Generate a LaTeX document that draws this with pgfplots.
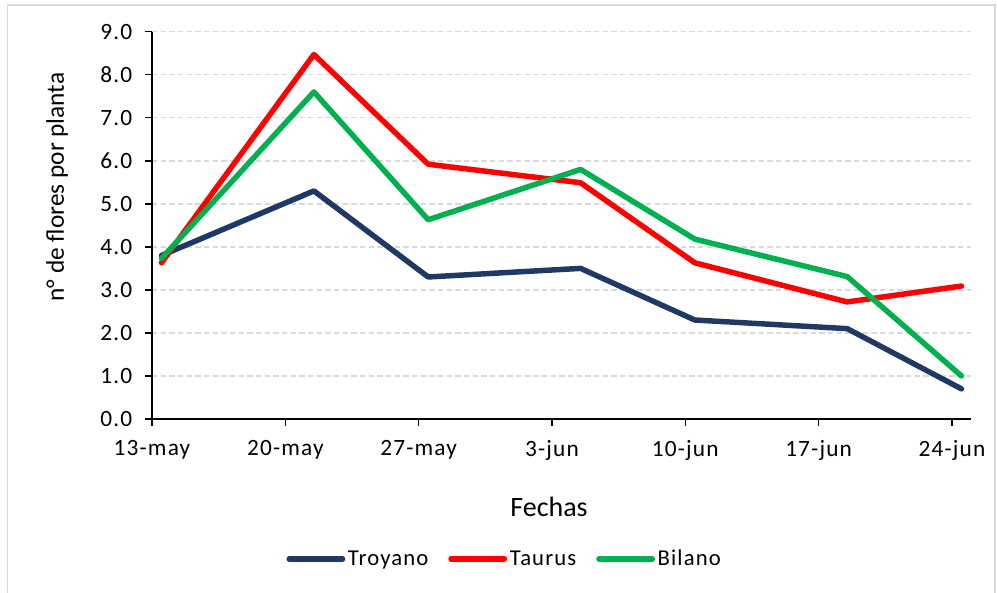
\documentclass[border=0pt]{standalone}
\usepackage{pgfplots}
\pgfplotsset{compat=1.18}
\usepackage{fontspec}
\setmainfont{Carlito}
\newfontfamily\tickfont[LetterSpace=5]{Carlito}
\newfontfamily\legfont[LetterSpace=5]{Carlito}
\definecolor{troy}{HTML}{203864}
\definecolor{taur}{HTML}{FF0000}
\definecolor{bila}{HTML}{00B050}
\definecolor{gridc}{HTML}{D9D9D9}
\begin{document}
\begin{tikzpicture}
\useasboundingbox (0pt,0pt) rectangle (747.75pt,-444.75pt);
\fill[white] (0pt,0pt) rectangle (747.75pt,-444.75pt);
\draw[gridc, line width=1.2pt] (5.6pt,-444.75pt) -- (5.6pt,-3.75pt) -- (746.25pt,-3.75pt) -- (746.25pt,-444.75pt);
\begin{axis}[
  at={(114pt,-314.25pt)}, anchor=origin,
  scale only axis, width=614.25pt, height=290.5pt,
  xmin=0, xmax=43, ymin=0, ymax=9,
  axis lines=left,
  axis line style={-, line width=1.1pt, black},
  xtick={0,7,14,21,28,35,42},
  xticklabels={13-may,20-may,27-may,3-jun,10-jun,17-jun,24-jun},
  ytick={0,1,...,9},
  /pgf/number format/assume math mode=true,
  tick label style={font=\tickfont\fontsize{17.5pt}{20pt}\selectfont, black},
  xticklabel style={yshift=-7pt},
  yticklabel style={xshift=-6pt, /pgf/number format/.cd, fixed, fixed zerofill, precision=1},
  tick align=outside,
  major tick length=5.25pt,
  tick style={black, line width=1.1pt},
  ymajorgrids,
  major grid style={gridc, line width=1.1pt, dash pattern=on 4pt off 2.5pt},
  legend columns=3,
  legend style={draw=none, fill=none, at={(0.431,-0.3614)}, anchor=center,
    font=\legfont\fontsize{17pt}{19pt}\selectfont,
    /tikz/every even column/.append style={column sep=13pt},
    /tikz/every odd column/.append style={inner xsep=1pt}},
  legend cell align=left,
  legend image code/.code={\draw[#1, line cap=round] (0pt,0pt) -- (40pt,0pt);},
  every axis plot/.append style={line width=4.1pt, line cap=round, line join=round},
  clip=false,
]
\addplot[troy] coordinates {(0.5,3.8) (8.5,5.3) (14.5,3.3) (22.5,3.5) (28.5,2.3) (36.5,2.1) (42.5,0.7)};
\addplot[taur] coordinates {(0.5,3.63) (8.5,8.47) (14.5,5.92) (22.5,5.49) (28.5,3.63) (36.5,2.72) (42.5,3.09)};
\addplot[bila] coordinates {(0.5,3.73) (8.5,7.6) (14.5,4.63) (22.5,5.8) (28.5,4.18) (36.5,3.31) (42.5,1.0)};
\legend{Troyano,Taurus,Bilano}
\end{axis}
\node[rotate=90, font=\fontsize{19pt}{22pt}\selectfont] at (42.75pt,-140.25pt) {n° de flores por planta};
\node[font=\fontsize{21pt}{24pt}\selectfont] at (411.75pt,-380.25pt) {Fechas};
\end{tikzpicture}
\end{document}
